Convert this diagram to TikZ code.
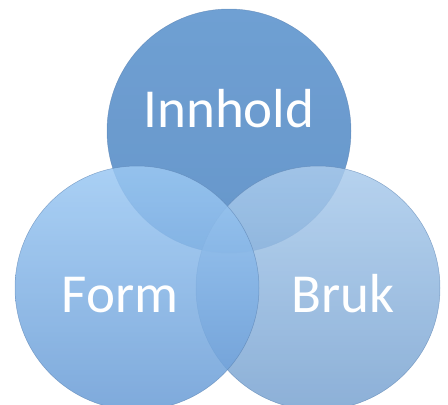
\documentclass[tikz,border=0pt]{standalone}
\usepackage{fontspec}
\setmainfont{Carlito}
\usepackage{tikz}
\usetikzlibrary{positioning}

\definecolor{innholdtop}{RGB}{86,143,203}
\definecolor{innholdbot}{RGB}{76,132,193}
\definecolor{formtop}{RGB}{155,200,243}
\definecolor{formbot}{RGB}{104,155,213}
\definecolor{bruktop}{RGB}{170,203,236}
\definecolor{brukbot}{RGB}{120,162,208}
\definecolor{rimblue}{RGB}{88,128,176}

\begin{document}
\begin{tikzpicture}
    [x=1pt,y=-1pt,
     ring/.style={circle,minimum size=244pt,inner sep=0pt,
                  draw=rimblue,line width=0.5pt,draw opacity=0.6,fill opacity=0.85},
     word/.style={text=white,anchor=base,font=\fontsize{55}{60}\selectfont}]

    \useasboundingbox (0,0) rectangle (448,405);

    % the three circles, the left one on top
    \node[ring,top color=innholdtop,bottom color=innholdbot] (innhold) at (229,131) {};
    \node[ring,top color=bruktop,bottom color=brukbot] (bruk) at (318,288) {};
    \node[ring,top color=formtop,bottom color=formbot] (form) at (137,288) {};

    % labels
    \node[word] (innholdtxt) at (229,127) {Innhold};
    \node[word] (formtxt) at (120,312) {Form};
    \node[word] (bruktxt) at (343,312) {Bruk};

\end{tikzpicture}
\end{document}
